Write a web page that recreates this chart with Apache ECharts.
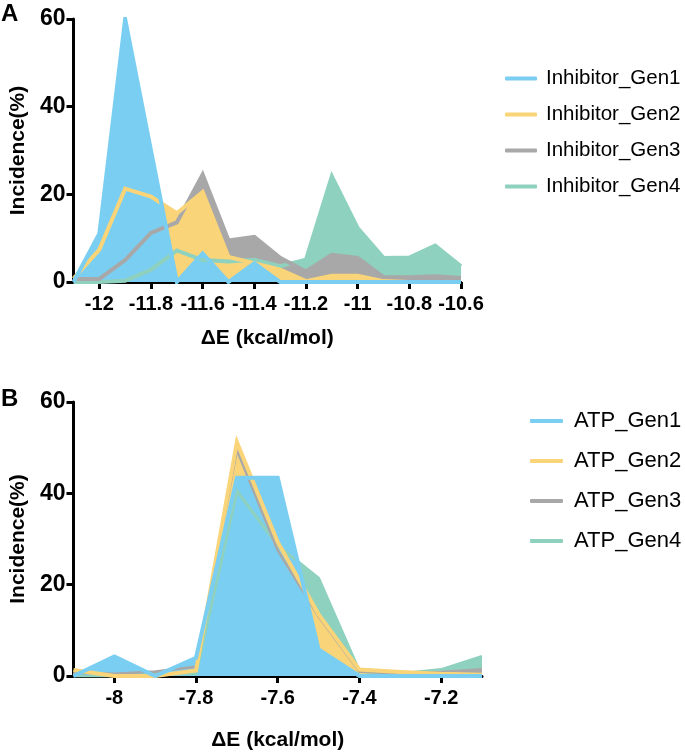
<!DOCTYPE html>
<html>
<head>
<meta charset="utf-8">
<script src="https://cdn.jsdelivr.net/npm/echarts@6.0.0/dist/echarts.min.js"></script>
<style>
html, body { margin: 0; padding: 0; background: #fff; }
#main { width: 685px; height: 752px; }
</style>
</head>
<body>
<div id="main"></div>
<script>
// panel A - inhibitor docking energies
var energyA = [-12.1, -12.0, -11.9, -11.8, -11.7, -11.6, -11.5, -11.4, -11.3, -11.2, -11.1, -11.0, -10.9, -10.8, -10.7, -10.6];
var inhibitorGen1 = [0, 11, 60, 30, 0, 6.5, 0, 4.3, 0, 0, 0, 0, 0, 0, 0, 0];
var inhibitorGen2 = [0.8, 7.4, 21.3, 19.5, 15.7, 20.5, 5.7, 4.3, 2.8, 0.2, 1.4, 1.4, 0.2, 0, 0, 0];
var inhibitorGen3 = [0.7, 0.7, 5, 11.2, 13.6, 24.5, 9.5, 10.3, 5.5, 2.4, 6.2, 5.5, 1.1, 1.1, 1.3, 0.9];
var inhibitorGen4 = [0, 0, 0.3, 2.8, 7.2, 5, 4.7, 5.1, 3.6, 5.1, 24.1, 12.3, 5.5, 5.6, 8.3, 3.6];
var ticksA = [-12, -11.8, -11.6, -11.4, -11.2, -11, -10.8, -10.6];
var namesA = ['Inhibitor_Gen1', 'Inhibitor_Gen2', 'Inhibitor_Gen3', 'Inhibitor_Gen4'];

// panel B - ATP docking energies
var energyB = [-8.1, -8.0, -7.9, -7.8, -7.7, -7.6, -7.5, -7.4, -7.3, -7.2, -7.1];
var atpGen1 = [0, 4.3, 0, 4.0, 43.4, 43.4, 5.8, 0, 0, 0, 0];
var atpGen2 = [1.3, 0, 0, 1.2, 51.2, 29.3, 13.5, 1.4, 0.9, 0.5, 0.3];
var atpGen3 = [0.7, 0.5, 1, 2, 49.5, 27.5, 13, 1, 0.5, 0.9, 1.5];
var atpGen4 = [0, 0, 0.3, 0.5, 40.5, 28.6, 21.4, 1, 0.5, 1.4, 4.3];
var ticksB = [-8, -7.8, -7.6, -7.4, -7.2];
var namesB = ['ATP_Gen1', 'ATP_Gen2', 'ATP_Gen3', 'ATP_Gen4'];

(function () {
    var myChart = echarts.init(document.getElementById('main'));
    var colors = ['#7acef2', '#fad478', '#a8a8a8', '#8ed1be'];
    var font = 'Liberation Sans, Arial, Helvetica, sans-serif';

    function pairs(xs, ys) {
        return xs.map(function (x, i) { return [x, ys[i]]; });
    }

    // fills first (gen4 at the back, gen1 in front), then the outlines on top
    function buildSeries(names, xs, rows, idx, widths) {
        var out = [];
        var i;
        for (i = rows.length - 1; i >= 0; i--) {
            out.push({
                name: names[i], type: 'line', xAxisIndex: idx, yAxisIndex: idx,
                data: pairs(xs, rows[i]), symbol: 'none', z: 2, silent: true,
                color: colors[i],
                lineStyle: { opacity: 0 },
                areaStyle: { color: colors[i], opacity: 1 }
            });
        }
        for (i = rows.length - 1; i >= 0; i--) {
            out.push({
                name: names[i], type: 'line', xAxisIndex: idx, yAxisIndex: idx,
                data: pairs(xs, rows[i]), symbol: 'none', z: 3, silent: true,
                color: colors[i],
                lineStyle: { color: colors[i], width: widths[i], join: 'miter' }
            });
        }
        return out;
    }

    function xAxis(idx, min, max, ticks, gap) {
        return {
            type: 'value', gridIndex: idx, min: min, max: max,
            name: '\u0394E (kcal/mol)', nameLocation: 'middle', nameGap: gap,
            nameTextStyle: { fontFamily: font, fontWeight: 'bold', fontSize: 21, color: '#000' },
            axisLine: { lineStyle: { color: '#000', width: 3 } },
            axisTick: { show: true, length: 7, lineStyle: { color: '#000', width: 3 }, customValues: ticks },
            axisLabel: { customValues: ticks, margin: 12, fontFamily: font, fontWeight: 'bold', fontSize: 20, color: '#000' },
            splitLine: { show: false }
        };
    }

    function yAxis(idx) {
        return {
            type: 'value', gridIndex: idx, min: 0, max: 60, interval: 20,
            name: 'Incidence(%)', nameLocation: 'middle', nameGap: 43,
            nameTextStyle: { fontFamily: font, fontWeight: 'bold', fontSize: 21, color: '#000' },
            axisLine: { show: true, lineStyle: { color: '#000', width: 3 } },
            axisTick: { show: true, length: 7, lineStyle: { color: '#000', width: 3 } },
            axisLabel: { margin: 8, fontFamily: font, fontWeight: 'bold', fontSize: 23, color: '#000' },
            splitLine: { show: false }
        };
    }

    var series = buildSeries(namesA, energyA, [inhibitorGen1, inhibitorGen2, inhibitorGen3, inhibitorGen4], 0, [4, 4, 4, 4])
        .concat(buildSeries(namesB, energyB, [atpGen1, atpGen2, atpGen3, atpGen4], 1, [4, 4, 2.5, 3]));

    var option = {
        animation: false,
        grid: [
            { left: 68, top: 19, width: 393, height: 263 },
            { left: 67, top: 402, width: 415, height: 277 }
        ],
        xAxis: [xAxis(0, -12.1, -10.6, ticksA, 46), xAxis(1, -8.1, -7.1, ticksB, 54)],
        yAxis: [yAxis(0), yAxis(1)],
        legend: [
            {
                data: namesA, orient: 'vertical', left: 500, top: 63,
                icon: 'roundRect', itemWidth: 32, itemHeight: 4, itemGap: 15,
                textStyle: { fontFamily: font, fontSize: 20.5, color: '#000', padding: [0, 0, 0, 4] }
            },
            {
                data: namesB, orient: 'vertical', left: 525, top: 405,
                icon: 'roundRect', itemWidth: 33, itemHeight: 4, itemGap: 18,
                textStyle: { fontFamily: font, fontSize: 22, color: '#000', padding: [0, 0, 0, 6] }
            }
        ],
        graphic: [
            { type: 'text', left: 1, top: 2, style: { text: 'A', font: 'bold 24px ' + font, fill: '#000' } },
            { type: 'text', left: 1, top: 387, style: { text: 'B', font: 'bold 24px ' + font, fill: '#000' } }
        ],
        series: series
    };

    myChart.setOption(option);
})();
</script>
</body>
</html>
